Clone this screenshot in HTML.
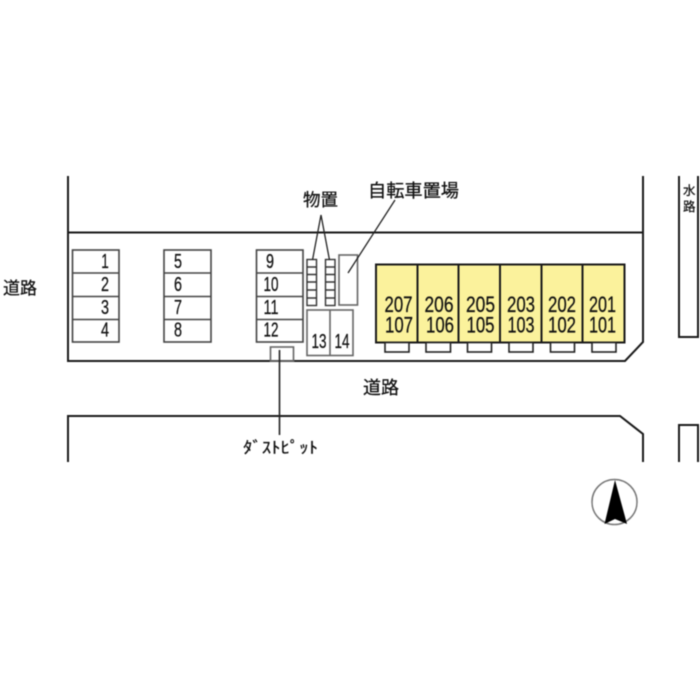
<!DOCTYPE html>
<html lang="ja">
<head>
<meta charset="utf-8">
<title>配置図</title>
<style>
html,body{margin:0;padding:0;background:#fff;width:700px;height:700px;overflow:hidden}
svg{display:block;filter:blur(.4px)}
text{font-family:"Liberation Sans","Noto Sans CJK JP",sans-serif;fill:#111;stroke:#111;stroke-width:.25px}
.j{font-family:"Noto Sans CJK JP","IPAGothic",sans-serif}
.n{font-size:20px;text-anchor:middle}
.u{font-size:22px;text-anchor:middle}
</style>
</head>
<body>
<svg width="700" height="700" viewBox="0 0 700 700" xmlns="http://www.w3.org/2000/svg">
<rect width="700" height="700" fill="#fff"/>

<!-- site outlines -->
<g fill="none" stroke="#1a1a1a" stroke-width="2">
<path d="M68 176V361H625L643 342V176"/>
<path d="M68 232.5H643"/>
<path d="M68 462V416H620L643 434V462"/>
<path d="M679 176V337H698V176"/>
<path d="M679 462V425H698V462"/>
</g>

<!-- yellow building -->
<rect x="376" y="264.5" width="248.5" height="78" fill="#fbf29c" stroke="#1a1a1a" stroke-width="2"/>
<path d="M417.5 264.5V342.5M458.5 264.5V342.5M500 264.5V342.5M541.5 264.5V342.5M582.5 264.5V342.5" stroke="#1a1a1a" stroke-width="2" fill="none"/>
<g fill="#fff" stroke="#222" stroke-width="1.6">
<rect x="385" y="342.5" width="24" height="9.5"/>
<rect x="426" y="342.5" width="24.5" height="9.5"/>
<rect x="467.5" y="342.5" width="24" height="9.5"/>
<rect x="509" y="342.5" width="24" height="9.5"/>
<rect x="550.5" y="342.5" width="24" height="9.5"/>
<rect x="592" y="342.5" width="24" height="9.5"/>
</g>

<!-- parking -->
<g fill="none" stroke="#444" stroke-width="1.6">
<rect x="72.5" y="250" width="46.5" height="92"/>
<path d="M72.5 273H119M72.5 296.5H119M72.5 319.5H119"/>
<rect x="164" y="250" width="47" height="92"/>
<path d="M164 273H211M164 296.5H211M164 319.5H211"/>
<rect x="256.5" y="250" width="46.5" height="92"/>
<path d="M256.5 273H303M256.5 296.5H303M256.5 319.5H303"/>
</g>
<g fill="none" stroke="#666" stroke-width="1.6">
<rect x="307" y="310" width="46" height="45.5"/>
<path d="M330 310V355.5"/>
<rect x="339" y="255" width="18.5" height="50"/>
<rect x="270.5" y="347" width="23" height="14"/>
</g>

<!-- storage -->
<g fill="none" stroke="#333" stroke-width="1.4">
<rect x="307" y="259.5" width="9.5" height="46"/>
<path d="M307 267H316.5M307 274.5H316.5M307 282H316.5M307 290H316.5M307 298H316.5"/>
<rect x="325.5" y="259.5" width="9.5" height="46"/>
<path d="M325.5 267H335M325.5 274.5H335M325.5 282H335M325.5 290H335M325.5 298H335"/>
</g>

<!-- leader lines -->
<g fill="none" stroke="#222" stroke-width="1.3">
<path d="M312.5 260L321 215L329.5 260"/>
<path d="M395 200L348 273"/>
<path d="M279.5 350V435" stroke-width="1.6"/>
</g>

<!-- parking numbers -->
<g>
<text class="n" x="105" y="268" textLength="7.5" lengthAdjust="spacingAndGlyphs">1</text>
<text class="n" x="105" y="291" textLength="8" lengthAdjust="spacingAndGlyphs">2</text>
<text class="n" x="105" y="314" textLength="8" lengthAdjust="spacingAndGlyphs">3</text>
<text class="n" x="105" y="336.5" textLength="8" lengthAdjust="spacingAndGlyphs">4</text>
<text class="n" x="178" y="268" textLength="8" lengthAdjust="spacingAndGlyphs">5</text>
<text class="n" x="178" y="291" textLength="8" lengthAdjust="spacingAndGlyphs">6</text>
<text class="n" x="178" y="314" textLength="8" lengthAdjust="spacingAndGlyphs">7</text>
<text class="n" x="178" y="336.5" textLength="8" lengthAdjust="spacingAndGlyphs">8</text>
<text class="n" x="270" y="268" textLength="8" lengthAdjust="spacingAndGlyphs">9</text>
<text class="n" x="271" y="291" textLength="15" lengthAdjust="spacingAndGlyphs">10</text>
<text class="n" x="271" y="314" textLength="15" lengthAdjust="spacingAndGlyphs">11</text>
<text class="n" x="271" y="336.5" textLength="15" lengthAdjust="spacingAndGlyphs">12</text>
<text class="n" x="319" y="348" textLength="15" lengthAdjust="spacingAndGlyphs">13</text>
<text class="n" x="342" y="348" textLength="15" lengthAdjust="spacingAndGlyphs">14</text>
</g>

<!-- unit numbers -->
<g>
<text class="u" x="398.5" y="312" textLength="28" lengthAdjust="spacingAndGlyphs">207</text>
<text class="u" x="399" y="332.5" textLength="28" lengthAdjust="spacingAndGlyphs">107</text>
<text class="u" x="439" y="312" textLength="29" lengthAdjust="spacingAndGlyphs">206</text>
<text class="u" x="440" y="332.5" textLength="28" lengthAdjust="spacingAndGlyphs">106</text>
<text class="u" x="480.5" y="312" textLength="29" lengthAdjust="spacingAndGlyphs">205</text>
<text class="u" x="480.5" y="332.5" textLength="28" lengthAdjust="spacingAndGlyphs">105</text>
<text class="u" x="521" y="312" textLength="28" lengthAdjust="spacingAndGlyphs">203</text>
<text class="u" x="521" y="332.5" textLength="27" lengthAdjust="spacingAndGlyphs">103</text>
<text class="u" x="562" y="312" textLength="28" lengthAdjust="spacingAndGlyphs">202</text>
<text class="u" x="562" y="332.5" textLength="28" lengthAdjust="spacingAndGlyphs">102</text>
<text class="u" x="602.5" y="312" textLength="27" lengthAdjust="spacingAndGlyphs">201</text>
<text class="u" x="602.5" y="332.5" textLength="27" lengthAdjust="spacingAndGlyphs">101</text>
</g>

<!-- labels -->
<text class="j" x="3" y="294" font-size="17">道路</text>
<text class="j" x="363" y="394" font-size="18">道路</text>
<text class="j" x="303" y="206" font-size="17.5">物置</text>
<text class="j" x="368" y="197" font-size="18.2">自転車置場</text>
<text class="j" x="683" y="195" font-size="12.5">水</text>
<text class="j" x="683" y="211" font-size="12.5">路</text>
<text class="j" x="243" y="453" font-size="16" textLength="75" lengthAdjust="spacingAndGlyphs">ﾀﾞｽﾄﾋﾟｯﾄ</text>

<!-- north mark -->
<circle cx="614.5" cy="502" r="22.5" fill="none" stroke="#777" stroke-width="1.5"/>
<path d="M615 480L604.5 524L615 519L627 524Z" fill="#000"/>
</svg>
</body>
</html>
